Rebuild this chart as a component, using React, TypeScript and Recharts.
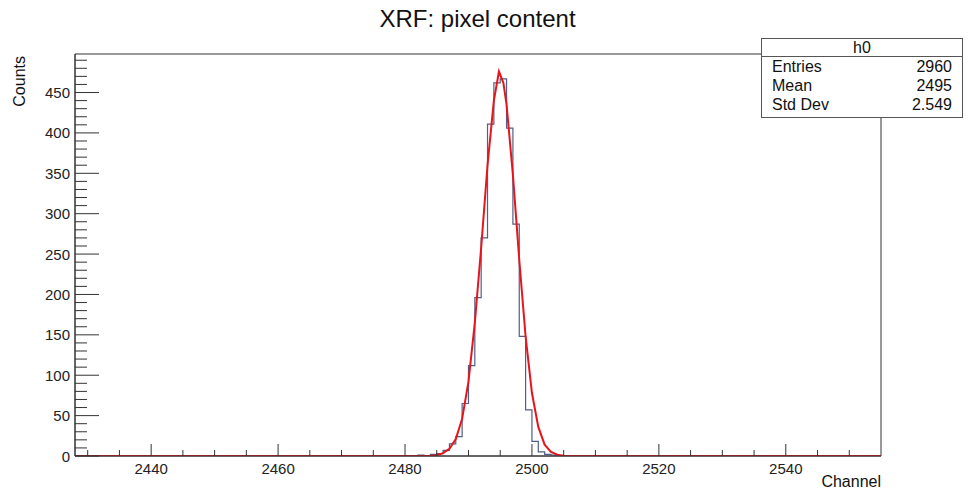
import React from "react";
import { ComposedChart, Line, XAxis, YAxis, ReferenceArea } from "recharts";

// ---- data ----
const histLowEdges = [2482, 2483, 2484, 2485, 2486, 2487, 2488, 2489, 2490, 2491, 2492, 2493, 2494, 2495, 2496, 2497, 2498, 2499, 2500, 2501, 2502, 2503];
const histCounts = [1, 0, 2, 3, 7, 15, 24, 65, 112, 196, 270, 411, 462, 467, 406, 287, 148, 57, 18, 5, 2, 1];

const fitX = [2428, 2483, 2484, 2485, 2486, 2487, 2488, 2489, 2490, 2491, 2492, 2493, 2494, 2494.8, 2495.5, 2496, 2497, 2498, 2499, 2500, 2501, 2502, 2503, 2504, 2505, 2506, 2555];
const fitY = [0, 0, 0.3, 1, 3.5, 9, 21, 46, 92, 165, 258, 360, 440, 476, 462, 435, 348, 243, 148, 78, 36, 14, 5, 1.5, 0.4, 0, 0];

const xMajorTicks = [2440, 2460, 2480, 2500, 2520, 2540];
const xAllTicks = [2430, 2435, 2440, 2445, 2450, 2455, 2460, 2465, 2470, 2475, 2480, 2485, 2490, 2495, 2500, 2505, 2510, 2515, 2520, 2525, 2530, 2535, 2540, 2545, 2550];
const yMajorTicks = [0, 50, 100, 150, 200, 250, 300, 350, 400, 450];
const yAllTicks = [0, 10, 20, 30, 40, 50, 60, 70, 80, 90, 100, 110, 120, 130, 140, 150, 160, 170, 180, 190, 200, 210, 220, 230, 240, 250, 260, 270, 280, 290, 300, 310, 320, 330, 340, 350, 360, 370, 380, 390, 400, 410, 420, 430, 440, 450, 460, 470, 480, 490];

const xDomain = [2428, 2555];
const yDomain = [0, 497.7];

const statsLabels = ["Entries", "Mean", "Std Dev"];
const statsValues = ["2960", "2495", "2.549"];

// ---- layout ----
const W = 970;
const H = 495;
const PL = 75;
const PR = 881;
const PT = 54;
const PB = 456;
const FONT = "'Liberation Sans', Arial, Helvetica, sans-serif";
const AXIS_COLOR = "#333";

const histData = [
  { x: xDomain[0], n: 0 },
  ...histLowEdges.map((e, i) => ({ x: e, n: histCounts[i] })),
  { x: histLowEdges[histLowEdges.length - 1] + 1, n: 0 },
  { x: xDomain[1], n: 0 },
];
const fitData = fitX.map((x, i) => ({ x, f: fitY[i] }));

const XTick = (props: any) => {
  const { x, payload } = props;
  const v = payload.value;
  const major = xMajorTicks.includes(v);
  return (
    <g>
      <line x1={x} x2={x} y1={PB} y2={PB - (major ? 12 : 6)} stroke={AXIS_COLOR} strokeWidth={1} />
      {major && (
        <text x={x} y={PB + 18} textAnchor="middle" fontSize={15} fontFamily={FONT} fill="#222">
          {v}
        </text>
      )}
    </g>
  );
};

const YTick = (props: any) => {
  const { y, payload } = props;
  const v = payload.value;
  const major = yMajorTicks.includes(v);
  return (
    <g>
      <line x1={PL} x2={PL + (major ? 24 : 12)} y1={y} y2={y} stroke={AXIS_COLOR} strokeWidth={1} />
      {major && (
        <text x={PL - 5} y={y + 5.5} textAnchor="end" fontSize={15} fontFamily={FONT} fill="#222">
          {v}
        </text>
      )}
    </g>
  );
};

export default function App() {
  return (
    <div style={{ position: "absolute", left: 0, top: 0, width: W, height: H, background: "#fff", fontFamily: FONT }}>
      <ComposedChart
        width={W}
        height={H}
        margin={{ top: PT, right: W - PR, bottom: 0, left: 0 }}
      >
        <XAxis
          dataKey="x"
          type="number"
          domain={xDomain}
          ticks={xAllTicks}
          interval={0}
          allowDataOverflow
          height={H - PB}
          tickLine={false}
          axisLine={{ stroke: AXIS_COLOR }}
          tick={<XTick />}
        />
        <YAxis
          type="number"
          domain={yDomain}
          ticks={yAllTicks}
          interval={0}
          allowDataOverflow
          width={PL}
          tickLine={false}
          axisLine={{ stroke: AXIS_COLOR }}
          tick={<YTick />}
        />
        <ReferenceArea x1={xDomain[0]} x2={xDomain[1]} y1={yDomain[0]} y2={yDomain[1]} fill="none" stroke={AXIS_COLOR} strokeWidth={1} />
        <Line
          data={histData}
          dataKey="n"
          type="stepAfter"
          stroke="#4f5f86"
          strokeWidth={1.2}
          dot={false}
          activeDot={false}
          isAnimationActive={false}
        />
        <Line
          data={fitData}
          dataKey="f"
          type="linear"
          stroke="#e8141c"
          strokeWidth={2}
          dot={false}
          activeDot={false}
          isAnimationActive={false}
        />
      </ComposedChart>

      {/* title */}
      <div style={{ position: "absolute", left: 0, width: 955, top: 5, textAlign: "center", fontSize: 24, color: "#111" }}>
        XRF: pixel content
      </div>

      {/* axis titles */}
      <div style={{ position: "absolute", left: PR - 200, width: 200, top: 473, textAlign: "right", fontSize: 16, color: "#111" }}>
        Channel
      </div>
      <div
        style={{
          position: "absolute",
          left: 11,
          top: PT + 2,
          fontSize: 16,
          color: "#111",
          writingMode: "vertical-rl",
          transform: "rotate(180deg)",
          transformOrigin: "center",
          whiteSpace: "nowrap",
        }}
      >
        Counts
      </div>

      {/* stats box */}
      <div
        style={{
          position: "absolute",
          left: 761,
          top: 38,
          width: 202,
          height: 80,
          background: "#fff",
          border: "1px solid #555",
          boxSizing: "border-box",
          fontSize: 16,
          color: "#111",
        }}
      >
        <div style={{ height: 17, lineHeight: "17px", textAlign: "center", borderBottom: "1px solid #555" }}>h0</div>
        {statsLabels.map((l, i) => (
          <div key={l} style={{ display: "flex", justifyContent: "space-between", padding: "0 10px 0 10px", height: 19, lineHeight: "19px" }}>
            <span>{l}</span>
            <span>{statsValues[i]}</span>
          </div>
        ))}
      </div>
    </div>
  );
}
